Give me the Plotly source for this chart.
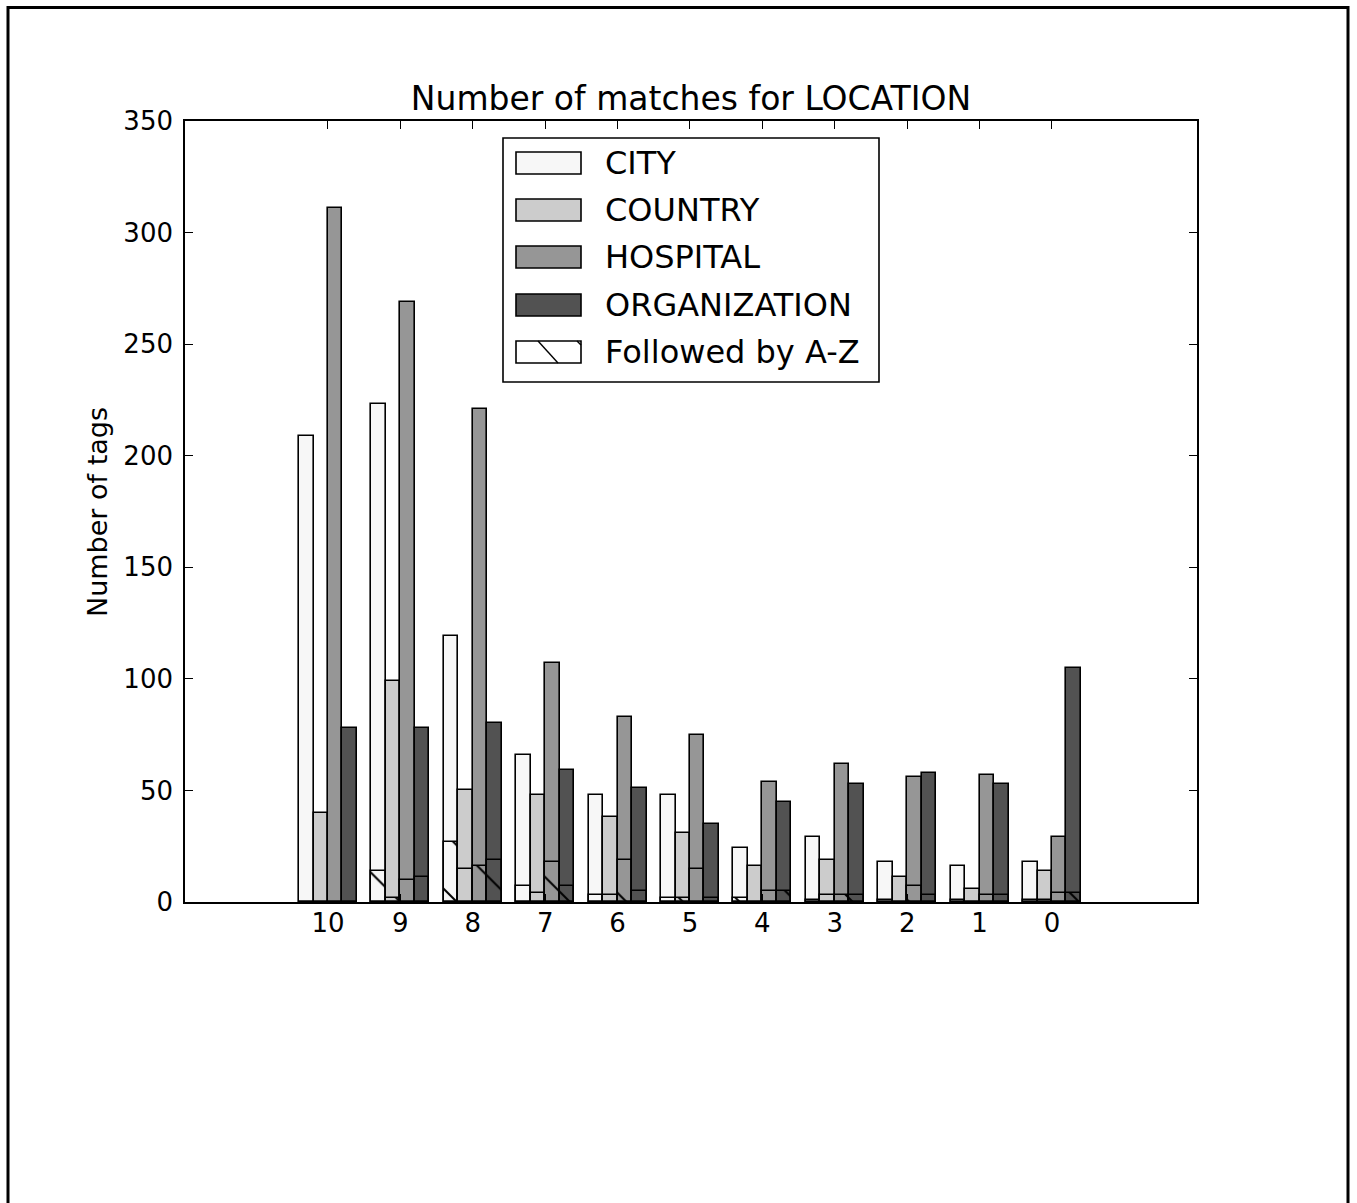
import numpy as np
import plotly.graph_objects as go

# Match-count buckets (x axis) and tag counts per entity type
buckets = ["10", "9", "8", "7", "6", "5", "4", "3", "2", "1", "0"]
city = [209, 223, 119, 66, 48, 48, 24, 29, 18, 16, 18]
country = [40, 99, 50, 48, 38, 31, 16, 19, 11, 6, 14]
hospital = [311, 269, 221, 107, 83, 75, 54, 62, 56, 57, 29]
organization = [78, 78, 80, 59, 51, 35, 45, 53, 58, 53, 105]

# Portion of each bar whose tag is followed by an A-Z character
city_az = [0, 14, 27, 7, 3, 2, 2, 1, 1, 1, 1]
country_az = [0, 2, 15, 4, 3, 2, 0, 3, 0, 0, 1]
hospital_az = [0, 10, 16, 18, 19, 15, 5, 3, 7, 3, 4]
organization_az = [0, 11, 19, 7, 5, 2, 5, 3, 3, 3, 4]

series_names = ["CITY", "COUNTRY", "HOSPITAL", "ORGANIZATION"]
series_vals = [city, country, hospital, organization]
series_az = [city_az, country_az, hospital_az, organization_az]
colors = ["#f7f7f7", "#cccccc", "#969696", "#525252"]

W, H = 1357, 1203
L, R, T, B = 185, 1197, 121, 902
FONT = "DejaVu Sans"

ind = np.arange(len(buckets))
width = 0.2
offsets = [-1.5 * width, -0.5 * width, 0.5 * width, 1.5 * width]

fig = go.Figure()

for name, vals, col, off in zip(series_names, series_vals, colors, offsets):
    fig.add_trace(go.Bar(
        x=ind + off, y=vals, width=width, name=name,
        marker=dict(color=col, line=dict(color="black", width=1.6)),
        showlegend=False,
    ))

for name, vals, off in zip(series_names, series_az, offsets):
    fig.add_trace(go.Bar(
        x=ind + off, y=vals, width=width, name=name + " followed by A-Z",
        marker=dict(
            color="rgba(0,0,0,0)",
            line=dict(color="black", width=1.6),
            pattern=dict(shape="\\", fgcolor="black", fgopacity=1,
                         bgcolor="rgba(0,0,0,0)", size=40, solidity=0.05),
        ),
        showlegend=False,
    ))

pw, ph = R - L, B - T


def px_x(v):
    return (v - L) / pw


def px_y(v):
    return (B - v) / ph


shapes = []
annotations = []

# Outer figure frame
shapes.append(dict(type="rect", xref="paper", yref="paper",
                   x0=px_x(8), x1=px_x(1348), y0=px_y(1260), y1=px_y(7.5),
                   line=dict(color="black", width=3), fillcolor="rgba(0,0,0,0)",
                   layer="above"))

# Legend box
shapes.append(dict(type="rect", xref="paper", yref="paper",
                   x0=px_x(503), x1=px_x(879), y0=px_y(382), y1=px_y(138),
                   line=dict(color="black", width=1.6), fillcolor="white",
                   layer="above"))
legend_labels = series_names + ["Followed by A-Z"]
legend_fills = colors + ["white"]
row_y = [163, 210, 257, 305, 352]
for lab, fc, yc in zip(legend_labels, legend_fills, row_y):
    shapes.append(dict(type="rect", xref="paper", yref="paper",
                       x0=px_x(516), x1=px_x(581), y0=px_y(yc + 11), y1=px_y(yc - 11),
                       line=dict(color="black", width=1.6), fillcolor=fc,
                       layer="above"))
    annotations.append(dict(text=lab, xref="paper", yref="paper",
                            x=px_x(603), y=px_y(yc), xanchor="left", yanchor="middle",
                            showarrow=False,
                            font=dict(family=FONT, size=32, color="black")))
# hatch strokes inside the last legend swatch
shapes.append(dict(type="line", xref="paper", yref="paper",
                   x0=px_x(538), y0=px_y(341), x1=px_x(558), y1=px_y(363),
                   line=dict(color="black", width=1.4), layer="above"))
shapes.append(dict(type="line", xref="paper", yref="paper",
                   x0=px_x(577), y0=px_y(341), x1=px_x(581), y1=px_y(345),
                   line=dict(color="black", width=1.4), layer="above"))

# Y axis title
annotations.append(dict(text="Number of tags", xref="paper", yref="paper",
                        x=px_x(98), y=px_y(512), xanchor="center", yanchor="middle",
                        textangle=-90, showarrow=False,
                        font=dict(family=FONT, size=27, color="black")))

fig.update_layout(
    width=W, height=H,
    margin=dict(l=L, r=W - R, t=T, b=H - B, pad=0),
    paper_bgcolor="white", plot_bgcolor="white",
    barmode="overlay", bargap=0,
    title=dict(text="Number of matches for LOCATION", x=(L + R) / 2 / W,
               xanchor="center", y=1 - 98 / H, yanchor="middle",
               font=dict(family=FONT, size=33, color="black")),
    font=dict(family=FONT, size=26, color="black"),
    xaxis=dict(range=[-1.975, 12.003], tickvals=ind, ticktext=buckets,
               showgrid=False, zeroline=False, showline=True, linecolor="black",
               linewidth=1.6, mirror="ticks", ticks="inside", ticklen=8,
               tickcolor="black", tickwidth=1.4, ticklabelstandoff=-3,
               tickfont=dict(family=FONT, size=26, color="black")),
    yaxis=dict(range=[0, 350], tickvals=list(range(0, 351, 50)),
               showgrid=False, zeroline=False, showline=True, linecolor="black",
               linewidth=1.6, mirror="ticks", ticks="inside", ticklen=8,
               tickcolor="black", tickwidth=1.4, ticklabelstandoff=5,
               tickfont=dict(family=FONT, size=26, color="black")),
    shapes=shapes, annotations=annotations,
)

fig.write_html("out.html")
